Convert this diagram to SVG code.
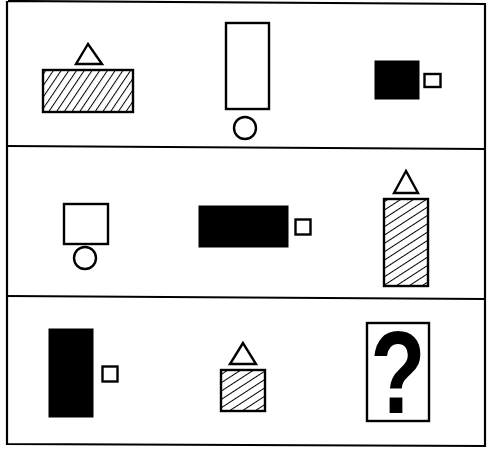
<svg xmlns="http://www.w3.org/2000/svg" width="487" height="457" viewBox="0 0 487 457">
<defs>
<pattern id="hatch1" patternUnits="userSpaceOnUse" width="6.4" height="8" patternTransform="rotate(34)">
<line x1="0" y1="0" x2="0" y2="8" stroke="#000" stroke-width="2"/>
</pattern>
<pattern id="hatch2" patternUnits="userSpaceOnUse" width="7" height="8" patternTransform="rotate(57)">
<line x1="0" y1="0" x2="0" y2="8" stroke="#000" stroke-width="2"/>
</pattern>
<style>
.o{fill:none;stroke:#000;stroke-width:2.2}
.w{fill:#fff;stroke:#000;stroke-width:2.4}
.h1{fill:url(#hatch1);stroke:#000;stroke-width:2.4}
.h2{fill:url(#hatch2);stroke:#000;stroke-width:2.4}
.b{fill:#000;stroke:#000;stroke-width:1}
</style>
</defs>
<rect width="487" height="457" fill="#fff"/>
<g id="frame" class="o">
<polyline points="8,1 485,4 485,446 7,444 7,1"/>
<line x1="7" y1="146" x2="485" y2="149"/>
<line x1="7" y1="296" x2="485" y2="299"/>
</g>
<g id="r1c1">
<rect class="h1" x="43" y="70" width="90" height="42"/>
<polygon class="w" points="88,44 76,64 102,64"/>
</g>
<g id="r1c2">
<rect class="w" x="226" y="23" width="43" height="86"/>
<circle class="w" cx="245" cy="128" r="11"/>
</g>
<g id="r1c3">
<rect class="b" x="375" y="61" width="44" height="38"/>
<rect class="w" x="424.5" y="74" width="16" height="13"/>
</g>
<g id="r2c1">
<rect class="w" x="64" y="204" width="44" height="40"/>
<circle class="w" cx="85" cy="258" r="11"/>
</g>
<g id="r2c2">
<rect class="b" x="199" y="206" width="89" height="41"/>
<rect class="w" x="295.5" y="219.5" width="15" height="15"/>
</g>
<g id="r2c3">
<polygon class="w" points="406,171 394,193 418,193"/>
<rect class="h2" x="384" y="199" width="44" height="87"/>
</g>
<g id="r3c1">
<rect class="b" x="49" y="329" width="44" height="88"/>
<rect class="w" x="102.5" y="366.5" width="15" height="15"/>
</g>
<g id="r3c2">
<polygon class="w" points="243,343 230,364 256,364"/>
<rect class="h2" x="221" y="370" width="44" height="41"/>
</g>
<g id="r3c3">
<rect class="w" x="367" y="323" width="62" height="98"/>
<text x="0" y="0" transform="translate(398,413) scale(0.78,1)" text-anchor="middle" font-family="Liberation Sans, Arial, sans-serif" font-weight="bold" font-size="116" fill="#000">?</text>
</g>
</svg>
